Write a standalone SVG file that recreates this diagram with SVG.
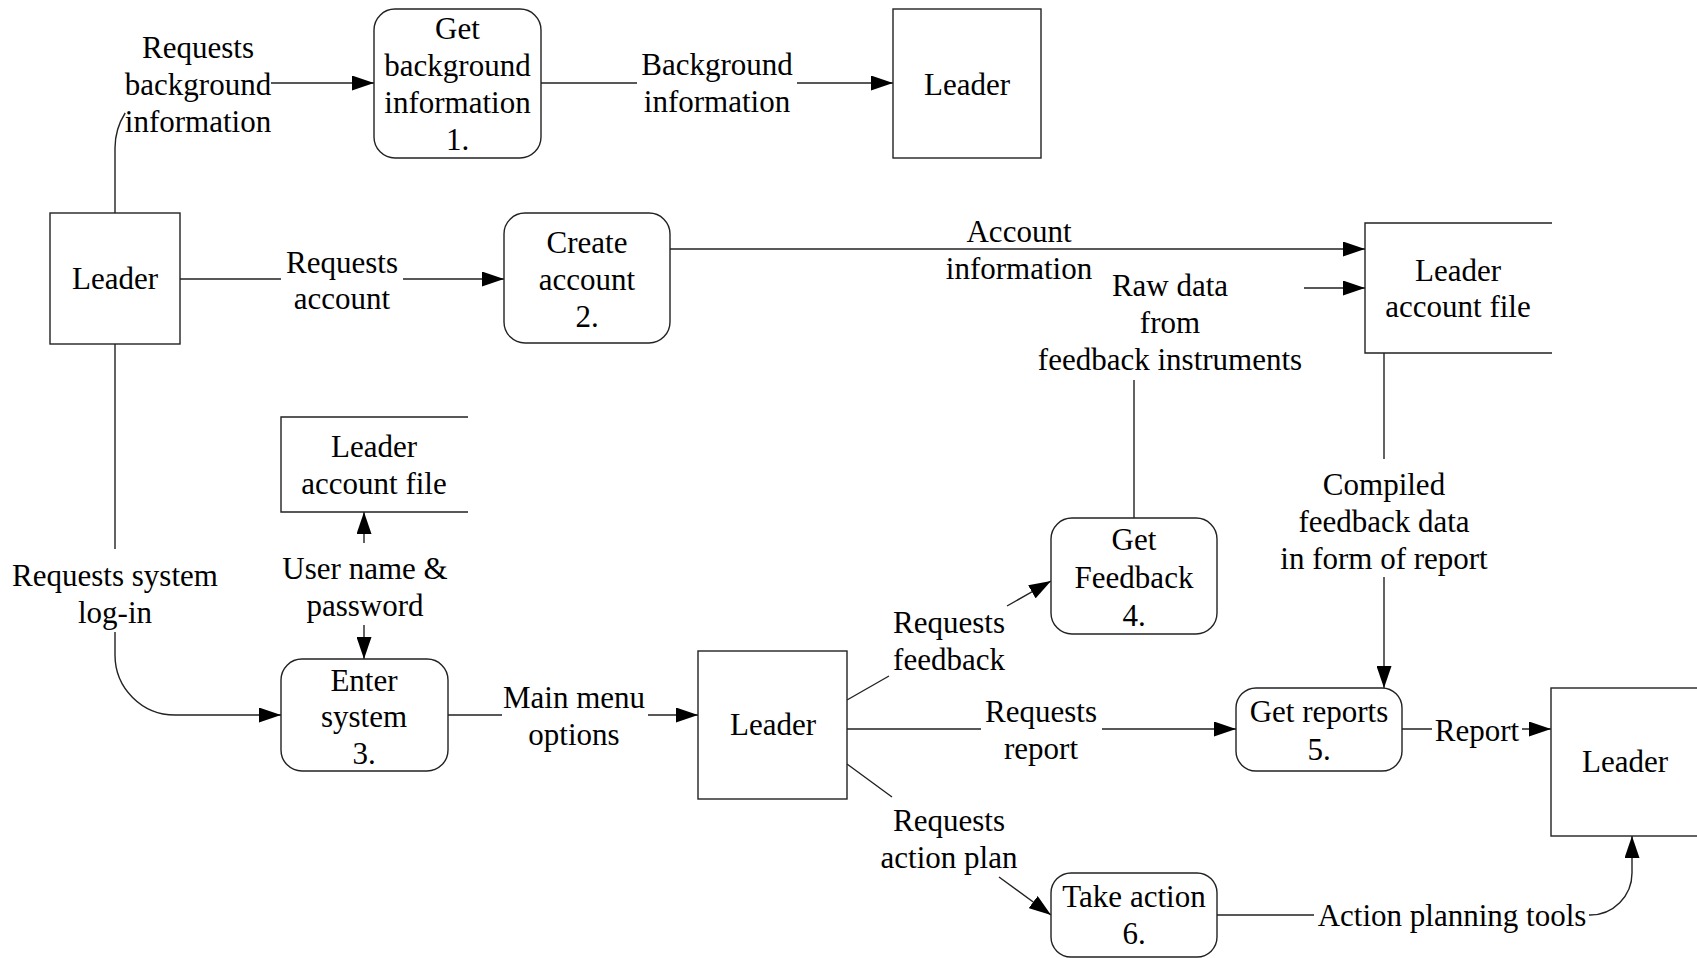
<svg xmlns="http://www.w3.org/2000/svg" width="1697" height="958" viewBox="0 0 1697 958">
<defs>
<marker id="arr" markerUnits="userSpaceOnUse" viewBox="0 0 22 15" markerWidth="22" markerHeight="15" refX="22" refY="7.5" orient="auto-start-reverse">
<path d="M0,0 L22,7.5 L0,15 Z" fill="#000"/>
</marker>
<style>
.ent{fill:#fff;stroke:#222;stroke-width:1.4}
.proc{fill:#fff;stroke:#222;stroke-width:1.4}
.store{fill:none;stroke:#222;stroke-width:1.4}
.flow{fill:none;stroke:#222;stroke-width:1.4}
.end{marker-end:url(#arr)}
text{font-family:"Liberation Serif","Times New Roman",serif;font-size:31px;fill:#000;text-anchor:middle}
</style>
</defs>
<rect width="1697" height="958" fill="#fff"/>

<g id="connectors">
<path class="flow end" d="M115,213 V148 A65,65 0 0 1 125.2,113 M271,83 H374"/>
<path class="flow end" d="M541,83 H637 M797,83 H893"/>
<path class="flow end" d="M180,279 H281 M403,279 H504"/>
<path class="flow end" d="M670,249 H1365"/>
<path class="flow end" d="M1134,518 V380 M1304,288 H1365"/>
<path class="flow end" d="M1384,353 V459 M1384,577 V688"/>
<path class="flow end" d="M115,344 V549 M115,632 V655 A60,60 0 0 0 175,715 H281"/>
<path class="flow end" d="M364,543 V512"/>
<path class="flow end" d="M364,625 V659"/>
<path class="flow end" d="M448,715 H502 M648,715 H698"/>
<path class="flow end" d="M847,700 L889,676 M1007,606 L1051,581"/>
<path class="flow end" d="M847,729 H981 M1102,729 H1236"/>
<path class="flow end" d="M847,764 L892,797 M999,877 L1051,915"/>
<path class="flow end" d="M1402,729 H1432 M1522,729 H1551"/>
<path class="flow end" d="M1217,915 H1314 M1589,915 H1590 A42,42 0 0 0 1632,873 V836"/>
</g>

<g id="labels" transform="translate(0,1.5)">
<text><tspan x="198" y="56">Requests</tspan><tspan x="198" y="93">background</tspan><tspan x="198" y="130">information</tspan></text>
<text><tspan x="717" y="73">Background</tspan><tspan x="717" y="110">information</tspan></text>
<text><tspan x="342" y="271">Requests</tspan><tspan x="342" y="307">account</tspan></text>
<text><tspan x="1019" y="240">Account</tspan><tspan x="1019" y="277">information</tspan></text>
<text><tspan x="1170" y="294">Raw data</tspan><tspan x="1170" y="331">from</tspan><tspan x="1170" y="368">feedback instruments</tspan></text>
<text><tspan x="1384" y="493">Compiled</tspan><tspan x="1384" y="530">feedback data</tspan><tspan x="1384" y="567">in form of report</tspan></text>
<text><tspan x="115" y="584">Requests system</tspan><tspan x="115" y="621">log-in</tspan></text>
<text><tspan x="365" y="577">User name &amp;</tspan><tspan x="365" y="614">password</tspan></text>
<text><tspan x="574" y="706">Main menu</tspan><tspan x="574" y="743">options</tspan></text>
<text><tspan x="949" y="631">Requests</tspan><tspan x="949" y="668">feedback</tspan></text>
<text><tspan x="1041" y="720">Requests</tspan><tspan x="1041" y="757">report</tspan></text>
<text><tspan x="949" y="829">Requests</tspan><tspan x="949" y="866">action plan</tspan></text>
<text x="1477" y="739">Report</text>
<text x="1452" y="924">Action planning tools</text>
</g>

<g id="leader-left">
<rect class="ent" x="50" y="213" width="130" height="131"/>
<text x="115" y="288.5">Leader</text>
</g>
<g id="leader-top">
<rect class="ent" x="893" y="9" width="148" height="149"/>
<text x="967" y="94.5">Leader</text>
</g>
<g id="leader-mid">
<rect class="ent" x="698" y="651" width="149" height="148"/>
<text x="773" y="734.5">Leader</text>
</g>
<g id="leader-right">
<rect class="ent" x="1551" y="688" width="149" height="148"/>
<text x="1625" y="771.5">Leader</text>
</g>
<g id="proc1">
<rect class="proc" x="374" y="9" width="167" height="149" rx="21" ry="21"/>
<text><tspan x="457.5" y="38.5">Get</tspan><tspan x="457.5" y="75.5">background</tspan><tspan x="457.5" y="112.5">information</tspan><tspan x="457.5" y="149.5">1.</tspan></text>
</g>
<g id="proc2">
<rect class="proc" x="504" y="213" width="166" height="130" rx="21" ry="21"/>
<text><tspan x="587" y="252.5">Create</tspan><tspan x="587" y="289.5">account</tspan><tspan x="587" y="326.5">2.</tspan></text>
</g>
<g id="proc3">
<rect class="proc" x="281" y="659" width="167" height="112" rx="21" ry="21"/>
<text><tspan x="364" y="690.5">Enter</tspan><tspan x="364" y="726.5">system</tspan><tspan x="364" y="763.5">3.</tspan></text>
</g>
<g id="proc4">
<rect class="proc" x="1051" y="518" width="166" height="116" rx="21" ry="21"/>
<text><tspan x="1134" y="549.5">Get</tspan><tspan x="1134" y="587.5">Feedback</tspan><tspan x="1134" y="625.5">4.</tspan></text>
</g>
<g id="proc5">
<rect class="proc" x="1236" y="688" width="166" height="83" rx="20" ry="20"/>
<text><tspan x="1319" y="721.5">Get reports</tspan><tspan x="1319" y="759.5">5.</tspan></text>
</g>
<g id="proc6">
<rect class="proc" x="1051" y="873" width="166" height="84" rx="20" ry="20"/>
<text><tspan x="1134" y="906.5">Take action</tspan><tspan x="1134" y="943.5">6.</tspan></text>
</g>
<g id="store-right">
<path class="store" d="M1552,223 H1365 V353 H1552"/>
<text><tspan x="1458" y="280.5">Leader</tspan><tspan x="1458" y="316.5">account file</tspan></text>
</g>
<g id="store-left">
<path class="store" d="M468,417 H281 V512 H468"/>
<text><tspan x="374" y="456.5">Leader</tspan><tspan x="374" y="493.5">account file</tspan></text>
</g>
</svg>
